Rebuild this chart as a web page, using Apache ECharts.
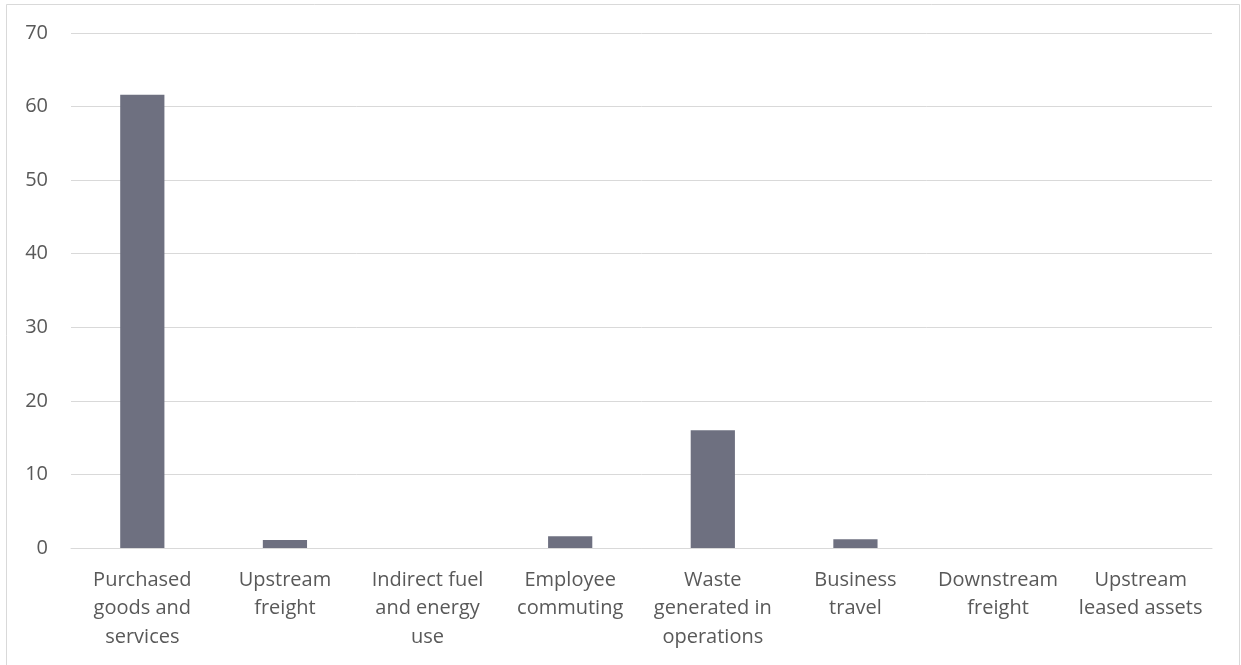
<!DOCTYPE html>
<html>
<head>
<meta charset="utf-8">
<script src="https://cdn.jsdelivr.net/npm/echarts@6/dist/echarts.min.js"></script>
<style>
  html, body { margin: 0; padding: 0; background: #ffffff; }
  #chart { width: 1241px; height: 665px; }
</style>
</head>
<body>
<div id="chart"></div>
<script>
// Emission categories (line breaks give the wrapped axis labels)
const categories = [
  'Purchased\ngoods and\nservices',
  'Upstream\nfreight',
  'Indirect fuel\nand energy\nuse',
  'Employee\ncommuting',
  'Waste\ngenerated in\noperations',
  'Business\ntravel',
  'Downstream\nfreight',
  'Upstream\nleased assets'
];
const values = [61.6, 1.1, 0, 1.6, 16.0, 1.2, 0, 0];
const yTicks = [0, 10, 20, 30, 40, 50, 60, 70];

const chart = echarts.init(document.getElementById('chart'), null, { renderer: 'canvas' });
const font = '"Open Sans", "Liberation Sans", sans-serif';

chart.setOption({
  backgroundColor: '#ffffff',
  animation: false,
  graphic: [{
    type: 'rect',
    shape: { x: 6.5, y: 4.5, width: 1233, height: 680 },
    style: { fill: 'none', stroke: '#d9d9d9', lineWidth: 1 },
    silent: true
  }],
  grid: { left: 71, right: 29, top: 33, bottom: 117, containLabel: false },
  xAxis: {
    type: 'category',
    data: categories,
    axisLine: { show: true, lineStyle: { color: '#d9d9d9', width: 1 } },
    axisTick: { show: false },
    axisLabel: {
      color: '#595959',
      fontFamily: font,
      fontSize: 20,
      lineHeight: 28.5,
      margin: 18,
      interval: 0
    }
  },
  yAxis: {
    type: 'value',
    min: yTicks[0],
    max: yTicks[yTicks.length - 1],
    interval: 10,
    axisLine: { show: false },
    axisTick: { show: false },
    splitLine: { lineStyle: { color: '#d9d9d9', width: 1 } },
    axisLabel: {
      color: '#595959',
      fontFamily: font,
      fontSize: 20,
      margin: 23
    }
  },
  series: [{
    type: 'bar',
    data: values,
    barWidth: '31%',
    itemStyle: { color: '#6e7080' }
  }]
});
</script>
</body>
</html>
